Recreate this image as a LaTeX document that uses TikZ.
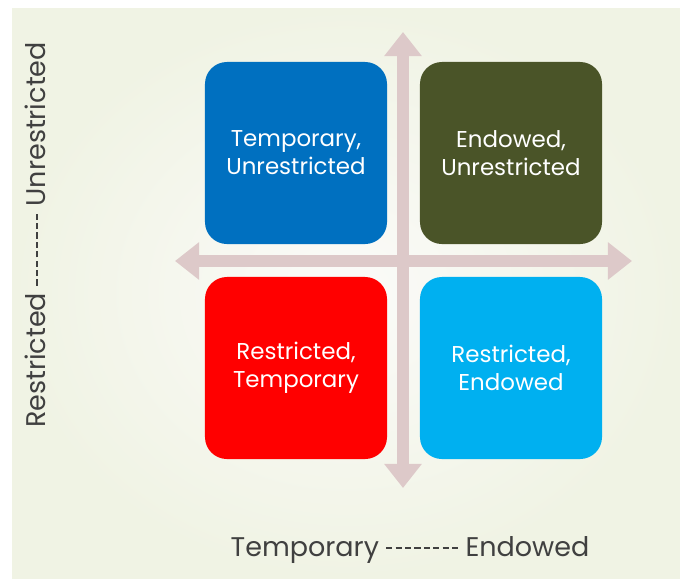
\documentclass[tikz,border=0pt]{standalone}
\usepackage{fontspec}
\setmainfont{Poppins}
\usetikzlibrary{arrows.meta,positioning}
\definecolor{quad-blue}{HTML}{0070C0}
\definecolor{quad-olive}{HTML}{4A5428}
\definecolor{quad-red}{HTML}{FF0000}
\definecolor{quad-cyan}{HTML}{00B0F0}
\definecolor{axis-rose}{HTML}{DDC9C9}
\definecolor{panel-edge}{HTML}{F0F3E4}
\definecolor{panel-mid}{HTML}{FBFBF9}
% short, tight dashes between the two ends of an axis caption
\newcommand{\hyph}{\rule[5.3pt]{4.4pt}{1.3pt}\hspace{2.3pt}}
\newcommand{\dashrun}{\hyph\hyph\hyph\hyph\hyph\hyph\hyph\rule[5.3pt]{4.4pt}{1.3pt}}

\begin{document}
\begin{tikzpicture}[
  x=0.025cm, y=-0.025cm,
  quad/.style={rectangle, rounded corners=0.55cm, minimum width=4.55cm,
    minimum height=4.55cm, align=center, text=white,
    font=\fontsize{16.3}{19.8}\selectfont},
  axis/.style={draw=axis-rose, line width=0.3cm,
    {Triangle[width=0.9cm,length=0.6cm]}-{Triangle[width=0.9cm,length=0.6cm]}},
  caption/.style={text=black!75, font=\fontsize{19.2}{22}\selectfont},
]
  \useasboundingbox (0,0) rectangle (680,579);
  \fill[white] (0,0) rectangle (680,579);
  \shade[inner color=panel-mid, outer color=panel-edge]
    (12,8) rectangle (680,579);

  % the two axes
  \coordinate (west)  at (175,261);
  \coordinate (east)  at (632,261);
  \coordinate (north) at (403,32);
  \coordinate (south) at (403,488);
  \draw[axis] (west) -- (east);
  \draw[axis] (north) -- (south);

  % the four quadrants
  \node[quad, fill=quad-blue]  (tempunres) at (296,153) {Temporary,\\Unrestricted};
  \node[quad, fill=quad-olive] (endunres)  at (511,153) {Endowed,\\Unrestricted};
  \node[quad, fill=quad-red]   (restemp)   at (296,368) {Restricted,\\Temporary};
  \node[quad, fill=quad-cyan]  (resend)    at (511,368) {Restricted,\\Endowed};

  \node[caption] (xcap) at (410,550) {Temporary \dashrun{} Endowed};
  \node[caption, rotate=90] (ycap) at (35,235) {Restricted \dashrun{} Unrestricted};
\end{tikzpicture}
\end{document}
